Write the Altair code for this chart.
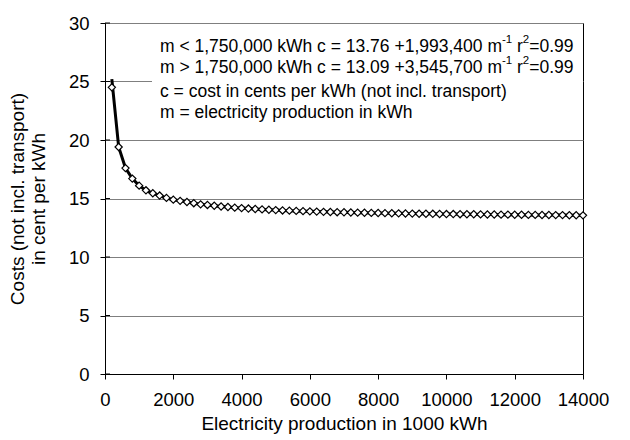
import altair as alt
import pandas as pd

# Electricity production (1000 kWh)
production = [200, 400, 600, 800, 1000, 1200, 1400, 1600, 1800, 2000,
              2200, 2400, 2600, 2800, 3000, 3200, 3400, 3600, 3800, 4000,
              4200, 4400, 4600, 4800, 5000, 5200, 5400, 5600, 5800, 6000,
              6200, 6400, 6600, 6800, 7000, 7200, 7400, 7600, 7800, 8000,
              8200, 8400, 8600, 8800, 9000, 9200, 9400, 9600, 9800, 10000,
              10200, 10400, 10600, 10800, 11000, 11200, 11400, 11600, 11800, 12000,
              12200, 12400, 12600, 12800, 13000, 13200, 13400, 13600, 13800, 14000]

# Costs (cent per kWh), marker values
cost_points = [24.5, 19.4, 17.6, 16.7, 16.1, 15.7, 15.45, 15.25, 15.05, 14.9,
               14.8, 14.7, 14.6, 14.5, 14.45, 14.38, 14.32, 14.27, 14.22, 14.18,
               14.14, 14.1, 14.07, 14.04, 14.01, 13.98, 13.96, 13.94, 13.92, 13.9,
               13.88, 13.86, 13.85, 13.83, 13.82, 13.8, 13.79, 13.78, 13.77, 13.76,
               13.75, 13.74, 13.73, 13.72, 13.71, 13.7, 13.7, 13.69, 13.68, 13.67,
               13.67, 13.66, 13.65, 13.65, 13.64, 13.63, 13.63, 13.62, 13.62, 13.61,
               13.61, 13.6, 13.6, 13.59, 13.59, 13.58, 13.58, 13.57, 13.57, 13.56]

# Line (curve) values: starts slightly above the first marker
cost_line = [25.2] + cost_points[1:]

y_ticks = [0, 5, 10, 15, 20, 25, 30]
x_ticks = [0, 2000, 4000, 6000, 8000, 10000, 12000, 14000]

note_rows = [
    [("m < 1,750,000 kWh c = 13.76 +1,993,400 m", False), ("-1", True), (" r", False), ("2", True), ("=0.99", False)],
    [("m > 1,750,000 kWh c = 13.09 +3,545,700 m", False), ("-1", True), (" r", False), ("2", True), ("=0.99", False)],
    [("c = cost in cents per kWh (not incl. transport)", False)],
    [("m = electricity production in kWh", False)],
]

FONT = "Liberation Sans"
W, H = 478, 351
BASE_FS = 17.5
SUP_FS = 11.5

# Arial / Liberation Sans advance widths (per 1000 em)
ARIAL = {' ': 278, '<': 584, '>': 584, '=': 584, '+': 584, ',': 278, '.': 278, '-': 333,
         '(': 333, ')': 333, '0': 556, '1': 556, '2': 556, '3': 556, '4': 556, '5': 556,
         '6': 556, '7': 556, '8': 556, '9': 556, 'm': 833, 'k': 500, 'W': 944, 'h': 556,
         'c': 500, 'r': 333}

def text_width(s, fs):
    return sum(ARIAL.get(ch, 556) for ch in s) * fs / 1000.0

df = pd.DataFrame({"production": production, "points": cost_points, "line": cost_line})

x_scale = alt.Scale(domain=[0, 14000], nice=False)
y_scale = alt.Scale(domain=[0, 30], nice=False)

x_enc = alt.X("production:Q", scale=x_scale,
              axis=alt.Axis(values=x_ticks, title="Electricity production in 1000 kWh",
                            grid=False, tickSize=5, labelPadding=11, titlePadding=6,
                            labelOverlap=False, labelFlush=False, format="d"))

line = alt.Chart(df).mark_line(color="black", strokeWidth=3).encode(
    x=x_enc,
    y=alt.Y("line:Q", scale=y_scale,
            axis=alt.Axis(values=y_ticks, title=["Costs (not incl. transport)", "in cent per kWh"],
                          grid=True, gridColor="#7f7f7f", gridWidth=1,
                          tickSize=5, labelPadding=11, labelFlush=False,
                          titleX=-97, titleY=H / 2, titleBaseline="top",
                          titleAngle=-90, titleAlign="center", titleLineHeight=21)),
)

points = alt.Chart(df).mark_point(shape="diamond", filled=True, fill="white", stroke="black",
                                  strokeWidth=1.2, size=52, opacity=1).encode(
    x=alt.X("production:Q", scale=x_scale),
    y=alt.Y("points:Q", scale=y_scale),
)

# inward part of the crossing y ticks
ytick_df = pd.DataFrame({"v": y_ticks})
inner_ticks = alt.Chart(ytick_df).mark_rule(color="black", strokeWidth=1).encode(
    y=alt.Y("v:Q", scale=y_scale),
    x=alt.value(0), x2=alt.value(5),
)

dummy = pd.DataFrame({"a": [0]})
box = alt.Chart(dummy).mark_rect(fill="white", stroke=None).encode(
    x=alt.value(47), x2=alt.value(W), y=alt.value(6), y2=alt.value(104)
)

row_y = [24, 45, 69, 90]
text_layers = []
x0 = 55
for r, segs in enumerate(note_rows):
    cx = x0
    for s, sup in segs:
        fs = SUP_FS if sup else BASE_FS
        yy = row_y[r] - (7 if sup else 0)
        stripped = s.lstrip(" ")
        lead = text_width(s[: len(s) - len(stripped)], fs)
        text_layers.append(
            alt.Chart(dummy).mark_text(align="left", baseline="middle", font=FONT,
                                       fontSize=fs, color="black").encode(
                x=alt.value(cx + lead), y=alt.value(yy), text=alt.value(stripped))
        )
        cx += text_width(s, fs)

chart = alt.layer(line, points, inner_ticks, box, *text_layers).properties(
    width=W, height=H,
    autosize=alt.AutoSizeParams(type="none"),
    padding={"left": 97, "top": 15, "right": 30, "bottom": 66},
).configure(font=FONT).configure_view(
    stroke="black", strokeWidth=1
).configure_axis(
    domainColor="black", tickColor="black", labelColor="black", titleColor="black",
    labelFont=FONT, titleFont=FONT, labelFontSize=18.5, titleFontSize=19,
    titleFontWeight="normal",
)

chart.save("out.html", embed_options={"renderer": "svg", "actions": False})
